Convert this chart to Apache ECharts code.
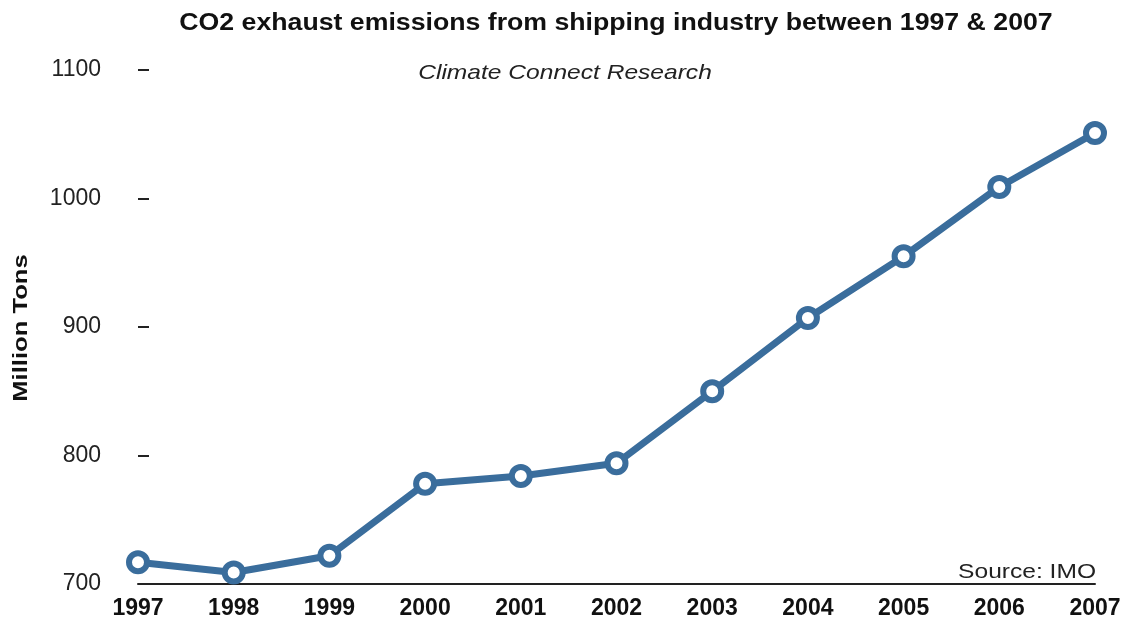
<!DOCTYPE html>
<html>
<head>
<meta charset="utf-8">
<script src="https://cdn.jsdelivr.net/npm/echarts@6/dist/echarts.min.js"></script>
<style>
  html, body { margin: 0; padding: 0; background: #ffffff; }
  #chart { width: 1124px; height: 625px; }
</style>
</head>
<body>
<div id="chart"></div>
<script>
// Shipping CO2 exhaust emissions, million tons per year
const years = ['1997', '1998', '1999', '2000', '2001', '2002', '2003', '2004', '2005', '2006', '2007'];
const emissions = [717, 709, 722, 778, 784, 794, 850, 907, 955, 1009, 1051];
const yTicks = [700, 800, 900, 1000, 1100];

const titleText = 'CO2 exhaust emissions from shipping industry between 1997 & 2007';
const subtitleText = 'Climate Connect Research';
const sourceText = 'Source: IMO';
const yAxisName = 'Million Tons';

const lineColor = '#3a6d9c';
const fontFamily = '"Liberation Sans", Arial, Helvetica, sans-serif';

const chart = echarts.init(document.getElementById('chart'), null, { renderer: 'canvas' });

chart.setOption({
  backgroundColor: '#ffffff',
  animation: false,
  textStyle: { fontFamily: fontFamily },
  // Headings and notes are drawn as graphic text so they can be widened a little
  graphic: [
    {
      type: 'text',
      x: 616, y: 12, scaleX: 1.16,
      style: {
        text: titleText, align: 'center', verticalAlign: 'top',
        font: 'bold 23px ' + fontFamily, fill: '#111'
      }
    },
    {
      type: 'text',
      x: 565, y: 63, scaleX: 1.17,
      style: {
        text: subtitleText, align: 'center', verticalAlign: 'top',
        font: 'italic 21px ' + fontFamily, fill: '#222'
      }
    },
    {
      type: 'text',
      x: 1096, y: 562, scaleX: 1.17,
      style: {
        text: sourceText, align: 'right', verticalAlign: 'top',
        font: '21px ' + fontFamily, fill: '#222'
      }
    },
    {
      type: 'text',
      x: 21, y: 328, rotation: Math.PI / 2, scaleX: 1.28,
      style: {
        text: yAxisName, align: 'center', verticalAlign: 'middle',
        font: 'bold 20px ' + fontFamily, fill: '#111'
      }
    }
  ],
  grid: { left: 138, right: 29, top: 70, bottom: 41, containLabel: false, outerBoundsMode: 'none' },
  xAxis: {
    type: 'category',
    data: years,
    boundaryGap: false,
    axisLine: { show: true, lineStyle: { color: '#222', width: 2 } },
    axisTick: { show: false },
    axisLabel: { fontSize: 23, fontWeight: 'bold', color: '#111', margin: 13, fontFamily: fontFamily },
    splitLine: { show: false }
  },
  yAxis: {
    type: 'value',
    min: yTicks[0],
    max: yTicks[yTicks.length - 1],
    interval: 100,
    axisLine: { show: false },
    axisTick: { show: true, inside: true, length: 11, lineStyle: { color: '#222', width: 2 } },
    axisLabel: {
      fontSize: 23, color: '#222', margin: 37, fontFamily: fontFamily,
      formatter: function (v) { return String(v); }
    },
    splitLine: { show: false }
  },
  series: [
    {
      type: 'line',
      data: emissions,
      symbol: 'circle',
      symbolSize: 18,
      showAllSymbol: true,
      lineStyle: { color: lineColor, width: 7 },
      itemStyle: { color: '#ffffff', borderColor: lineColor, borderWidth: 6 },
      emphasis: { disabled: true },
      z: 3
    }
  ]
});
</script>
</body>
</html>
